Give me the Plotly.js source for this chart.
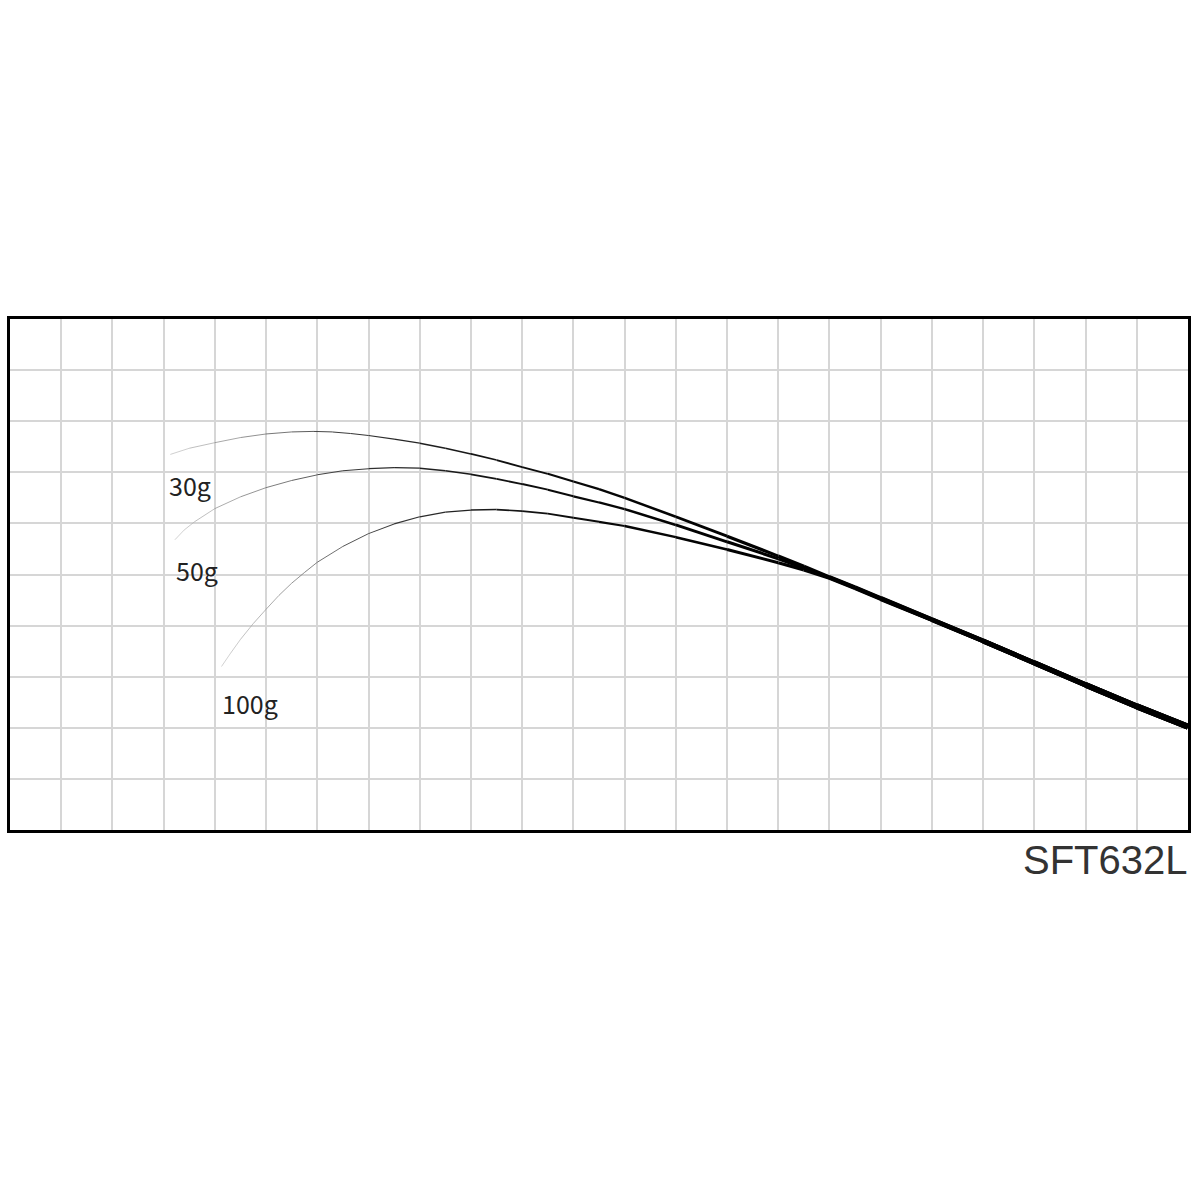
<!DOCTYPE html>
<html>
<head>
<meta charset="utf-8">
<script src="https://cdn.plot.ly/plotly-3.0.1.min.js"></script>
<style>
  html, body { margin: 0; padding: 0; background: #fff; }
  #chart { width: 1200px; height: 1200px; }
</style>
</head>
<body>
<div id="chart"></div>
<script>
// Rod bending curves (grid units: 23 columns x 10 rows)
const x30 = [3.13, 3.5, 4, 4.5, 5, 5.5, 5.92, 6.3, 6.65, 7, 7.5, 8, 8.5, 9, 9.5, 10, 10.5, 11, 11.5, 12, 13, 14, 15, 15.5, 16, 16.5, 17, 18, 19, 20, 21, 22, 23];
const y30 = [7.35, 7.47, 7.58, 7.68, 7.75, 7.79, 7.80, 7.79, 7.76, 7.72, 7.65, 7.57, 7.47, 7.36, 7.24, 7.10, 6.97, 6.82, 6.67, 6.50, 6.13, 5.75, 5.36, 5.16, 4.95, 4.75, 4.54, 4.12, 3.70, 3.27, 2.84, 2.42, 2.02];

const x50 = [3.22, 3.4, 3.6, 4, 4.5, 5, 5.5, 6, 6.5, 7, 7.5, 8, 8.5, 9, 9.5, 10, 10.5, 11, 11.5, 12, 13, 14, 15, 15.5, 16, 16.5, 17, 18, 19, 20, 21, 22, 23];
const y50 = [5.68, 5.87, 6.03, 6.29, 6.52, 6.70, 6.84, 6.95, 7.03, 7.07, 7.09, 7.08, 7.03, 6.96, 6.87, 6.77, 6.66, 6.53, 6.41, 6.28, 5.97, 5.64, 5.31, 5.13, 4.94, 4.74, 4.53, 4.12, 3.70, 3.27, 2.84, 2.42, 2.02];

const x100 = [4.13, 4.3, 4.5, 4.75, 5, 5.25, 5.5, 5.75, 6, 6.5, 7, 7.5, 8, 8.5, 9, 9.5, 10, 10.5, 11, 11.5, 12, 13, 14, 15, 15.5, 16, 16.5, 17, 18, 19, 20, 21, 22, 23];
const y100 = [3.20, 3.45, 3.73, 4.04, 4.32, 4.59, 4.83, 5.04, 5.24, 5.55, 5.80, 5.99, 6.13, 6.22, 6.26, 6.27, 6.24, 6.19, 6.11, 6.03, 5.95, 5.73, 5.49, 5.23, 5.09, 4.93, 4.73, 4.52, 4.11, 3.70, 3.27, 2.84, 2.42, 2.02];

const seriesLabels = ['30g', '50g', '100g'];
const labelX = [3.52, 3.65, 4.69];
const labelY = [6.75, 5.09, 2.49];
const modelName = 'SFT632L';

const series = [[x30, y30], [x50, y50], [x100, y100]];
const xMax = 23;

const traces = [];
series.forEach(([xs, ys]) => {
  const x0 = xs[0];
  for (let i = 0; i < xs.length - 1; i++) {
    const xm = (xs[i] + xs[i + 1]) / 2;
    const t = Math.max(0, Math.min(1, (xm - x0) / (xMax - x0)));
    const w = 0.6 + 5.6 * Math.pow(t, 1.4);
    const g = Math.round(185 * Math.pow(1 - t, 6));
    traces.push({
      type: 'scatter', mode: 'lines',
      x: [xs[i], xs[i + 1]], y: [ys[i], ys[i + 1]],
      line: { color: `rgb(${g},${g},${g})`, width: w },
      hoverinfo: 'skip', showlegend: false
    });
  }
});

const annotations = seriesLabels.map((s, i) => ({
  x: labelX[i], y: labelY[i], xref: 'x', yref: 'y',
  text: s, showarrow: false,
  font: { family: 'Noto Sans CJK JP, sans-serif', size: 25, color: '#222' },
  xanchor: 'center', yanchor: 'middle'
}));
annotations.push({
  x: 1, y: 0, xref: 'paper', yref: 'paper',
  text: modelName, showarrow: false,
  xanchor: 'right', yanchor: 'top', yshift: -6, xshift: 2,
  font: { family: 'Liberation Sans, Arial, sans-serif', size: 40, color: '#333' }
});

const layout = {
  width: 1200, height: 1200,
  margin: { l: 10, r: 12, t: 319, b: 370, pad: 0 },
  paper_bgcolor: '#fff', plot_bgcolor: '#fff',
  showlegend: false,
  xaxis: {
    range: [0, 23], tick0: 0, dtick: 1, showticklabels: false, ticks: '',
    showgrid: true, gridcolor: '#d6d6d6', gridwidth: 2, zeroline: false,
    showline: true, mirror: true, linecolor: '#000', linewidth: 3, fixedrange: true
  },
  yaxis: {
    range: [0, 10], tick0: 0, dtick: 1, showticklabels: false, ticks: '',
    showgrid: true, gridcolor: '#d6d6d6', gridwidth: 2, zeroline: false,
    showline: true, mirror: true, linecolor: '#000', linewidth: 3, fixedrange: true
  },
  annotations: annotations
};

Plotly.newPlot('chart', traces, layout, { displayModeBar: false, staticPlot: true });
</script>
</body>
</html>
